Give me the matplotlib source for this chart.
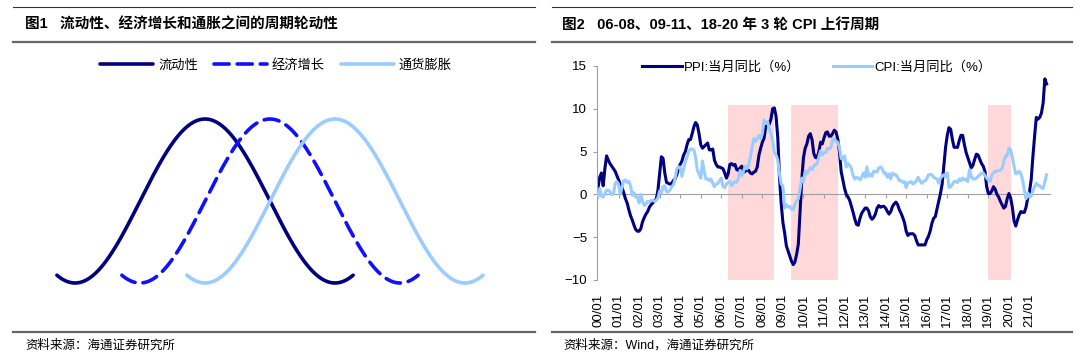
import numpy as np
import matplotlib
matplotlib.use("Agg")
import matplotlib.pyplot as plt
from matplotlib.lines import Line2D
from matplotlib.font_manager import FontProperties

# ---- data: left panel (schematic cycles) ----
cycle_names = ["流动性", "经济增长", "通货膨胀"]
cycle_lags = [0.0, 0.25, 0.5]          # lag of each peak, in cycles
cycle_colors = ["#000080", "#1010FF", "#99CCFF"]
cycle_styles = ["-", "--", "-"]

# ---- data: right panel (monthly yoy, 2000/01 - 2021/11) ----
ppi = [
    0.8, 2.0, 2.5, 1.0, 3.0, 4.5, 4.0, 3.6, 3.3, 3.0, 2.7, 2.2,        # 2000
    1.7, 1.2, 0.8, 0.2, -0.5, -1.0, -1.8, -2.5, -3.0, -3.6, -4.1, -4.3,  # 2001
    -4.3, -4.0, -3.2, -2.7, -2.3, -2.0, -1.5, -1.2, -1.0, -0.7, -0.6, 0.5,  # 2002
    2.5, 4.4, 4.2, 2.5, 1.4, 1.3, 1.2, 1.3, 1.6, 1.8, 2.3, 3.0,        # 2003
    3.5, 3.9, 4.6, 5.0, 5.8, 6.4, 6.4, 7.1, 7.9, 8.4, 8.1, 7.1,        # 2004
    5.8, 5.4, 5.6, 5.8, 6.0, 5.2, 5.2, 5.3, 4.0, 3.5, 3.2, 3.2,        # 2005
    3.1, 3.0, 2.5, 1.9, 2.4, 3.5, 3.6, 3.4, 3.5, 2.9, 2.8, 3.1,        # 2006
    3.3, 2.6, 2.7, 2.9, 2.8, 2.5, 2.4, 2.6, 2.7, 3.2, 4.6, 5.4,        # 2007
    6.1, 6.6, 8.0, 8.1, 8.2, 8.8, 10.0, 10.1, 9.1, 6.6, 2.0, -1.1,     # 2008
    -3.3, -4.5, -6.0, -6.6, -7.2, -7.8, -8.2, -7.9, -7.0, -5.8, -2.1, 1.7,  # 2009
    4.3, 5.4, 5.9, 6.8, 7.1, 6.4, 4.8, 4.3, 4.3, 5.0, 6.1, 5.9,        # 2010
    6.6, 7.2, 7.3, 6.8, 6.8, 7.1, 7.5, 7.3, 6.5, 5.0, 2.7, 1.7,        # 2011
    0.7, 0.0, -0.3, -0.7, -1.4, -2.1, -2.9, -3.5, -3.6, -2.8, -2.2, -1.9,  # 2012
    -1.6, -1.6, -1.9, -2.6, -2.9, -2.7, -2.3, -1.6, -1.3, -1.5, -1.4, -1.4,  # 2013
    -1.6, -2.0, -2.3, -2.0, -1.4, -1.1, -0.9, -1.2, -1.8, -2.2, -2.7, -3.3,  # 2014
    -4.3, -4.8, -4.6, -4.6, -4.6, -4.8, -5.4, -5.9, -5.9, -5.9, -5.9, -5.9,  # 2015
    -5.3, -4.9, -4.3, -3.4, -2.8, -2.6, -1.7, -0.8, 0.1, 1.2, 3.3, 5.5,  # 2016
    6.9, 7.8, 7.6, 6.4, 5.5, 5.5, 5.5, 6.3, 6.9, 6.9, 5.8, 4.9,        # 2017
    4.3, 3.7, 3.1, 3.4, 4.1, 4.7, 4.6, 4.1, 3.6, 3.3, 2.7, 0.9,        # 2018
    0.1, 0.1, 0.4, 0.9, 0.6, 0.0, -0.3, -0.8, -1.2, -1.6, -1.4, -0.5,  # 2019
    0.1, -0.4, -1.5, -3.1, -3.7, -3.0, -2.4, -2.0, -2.1, -2.1, -1.5, -0.4,  # 2020
    0.3, 1.7, 4.4, 6.8, 9.0, 8.8, 9.0, 9.5, 10.7, 13.5, 12.9,          # 2021
]
cpi = [
    -0.2, 0.7, -0.2, -0.3, 0.1, 0.5, 0.5, 0.3, 0.0, 0.0, 1.3, 1.5,     # 2000
    1.2, 0.0, 0.8, 1.6, 1.7, 1.4, 1.5, 1.0, -0.1, 0.2, -0.3, -0.3,     # 2001
    -1.0, 0.0, -0.8, -1.3, -1.1, -0.8, -0.9, -0.7, -0.7, -0.8, -0.7, -0.4,  # 2002
    0.4, 0.2, 0.9, 1.0, 0.3, 0.3, 0.5, 0.9, 1.1, 1.8, 3.0, 3.2,        # 2003
    3.2, 2.1, 3.0, 3.8, 4.4, 5.0, 5.3, 5.3, 5.2, 4.3, 2.8, 2.4,        # 2004
    1.9, 3.9, 2.7, 1.8, 1.8, 1.6, 1.8, 1.3, 0.9, 1.2, 1.3, 1.6,        # 2005
    1.9, 0.9, 0.8, 1.2, 1.4, 1.5, 1.0, 1.3, 1.5, 1.4, 1.9, 2.8,        # 2006
    2.2, 2.7, 3.3, 3.0, 3.4, 4.4, 5.6, 6.5, 6.2, 6.5, 6.9, 6.5,        # 2007
    7.1, 8.7, 8.3, 8.5, 7.7, 7.1, 6.3, 4.9, 4.6, 4.0, 2.4, 1.2,        # 2008
    1.0, -1.6, -1.2, -1.5, -1.4, -1.7, -1.8, -1.2, -0.8, -0.5, 0.6, 1.9,  # 2009
    1.5, 2.7, 2.4, 2.8, 3.1, 2.9, 3.3, 3.5, 3.6, 4.4, 5.1, 4.6,        # 2010
    4.9, 4.9, 5.4, 5.3, 5.5, 6.4, 6.5, 6.2, 6.1, 5.5, 4.2, 4.1,        # 2011
    4.5, 3.2, 3.6, 3.4, 3.0, 2.2, 1.8, 2.0, 1.9, 1.7, 2.0, 2.5,        # 2012
    2.0, 3.2, 2.1, 2.4, 2.1, 2.7, 2.7, 2.6, 3.1, 3.2, 3.0, 2.5,        # 2013
    2.5, 2.0, 2.4, 1.8, 2.5, 2.3, 2.3, 2.0, 1.6, 1.6, 1.4, 1.5,        # 2014
    0.8, 1.4, 1.4, 1.5, 1.2, 1.4, 1.6, 2.0, 1.6, 1.3, 1.5, 1.6,        # 2015
    1.8, 2.3, 2.3, 2.3, 2.0, 1.9, 1.8, 1.3, 1.9, 2.1, 2.3, 2.1,        # 2016
    2.5, 0.8, 0.9, 1.2, 1.5, 1.5, 1.4, 1.8, 1.6, 1.9, 1.7, 1.8,        # 2017
    1.5, 2.9, 2.1, 1.8, 1.8, 1.9, 2.1, 2.3, 2.5, 2.5, 2.2, 1.9,        # 2018
    1.7, 1.5, 2.3, 2.5, 2.7, 2.7, 2.8, 2.8, 3.0, 3.8, 4.5, 4.5,        # 2019
    5.4, 5.2, 4.3, 3.3, 2.4, 2.5, 2.7, 2.4, 1.7, 0.5, -0.5, 0.2,       # 2020
    -0.3, -0.2, 0.4, 0.9, 1.3, 1.1, 1.0, 0.8, 0.7, 1.5, 2.3,           # 2021
]
tick_years = list(range(2000, 2022))
tick_labels = ["%02d/01" % (y % 100) for y in tick_years]
# CPI up-cycles (start, end) in decimal years, shaded
shade_spans = [(2006 + 4 / 12, 2008 + 7 / 12),
               (2009 + 5 / 12, 2011 + 8 / 12),
               (2019.0, 2020 + 1 / 12)]
shade_top, shade_bottom = 10.5, -10

months = 2000 + np.arange(len(ppi)) / 12

W, H = 1080, 359
cjk = ["Noto Sans CJK SC", "DejaVu Sans"]
mix = ["Liberation Sans", "Noto Sans CJK SC", "DejaVu Sans"]
plt.rcParams["font.family"] = mix

fig = plt.figure(figsize=(W / 100, H / 100), dpi=100)


def fx(px):
    return px / W


def fy(py):
    return 1 - py / H


# ---- header / footer rules and texts ----
for x0, x1 in [(13, 535), (552, 1072)]:
    fig.add_artist(Line2D([fx(x0), fx(x1)], [fy(7), fy(7)], color="#333333", lw=0.8))
    fig.add_artist(Line2D([fx(x0), fx(x1)], [fy(42), fy(42)], color="#666666", lw=1.6))
    fig.add_artist(Line2D([fx(x0), fx(x1)], [fy(332), fy(332)], color="#666666", lw=1.6))

fig.text(fx(25), fy(24.5), "图1   流动性、经济增长和通胀之间的周期轮动性", fontsize=10.5,
         fontweight="bold", va="center", family=mix)
fig.text(fx(562), fy(24.5), "图2   06-08、09-11、18-20 年 3 轮 CPI 上行周期", fontsize=10.5,
         fontweight="bold", va="center", family=mix)
fig.text(fx(25), fy(345), "资料来源：海通证券研究所", fontsize=9, va="center", family=cjk)
fig.text(fx(563), fy(345), "资料来源：Wind，海通证券研究所", fontsize=9, va="center", family=mix)

# ---- left panel ----
ax1 = fig.add_axes([fx(40), fy(283), fx(460), (283 - 119) / H])
t = np.linspace(-0.57, 0.57, 400)
for name, lag, col, ls in zip(cycle_names, cycle_lags, cycle_colors, cycle_styles):
    line, = ax1.plot(t + lag, np.cos(2 * np.pi * t), color=col, lw=2.6, ls=ls,
                     label=name, clip_on=False, solid_capstyle="round")
    if ls == "--":
        line.set_dashes((4.2, 2.2))
        line.set_dash_capstyle("round")
ax1.set_xlim(-0.635, 1.135)
ax1.set_ylim(-1, 1)
ax1.axis("off")
fig.legend(*ax1.get_legend_handles_labels(), loc="center", ncol=3, frameon=False,
           bbox_to_anchor=(fx(276), fy(65)), handlelength=4.0, handletextpad=0.4,
           columnspacing=1.2, prop=FontProperties(family=cjk, size=9.5))

# ---- right panel ----
ax2 = fig.add_axes([fx(597), fy(280), fx(453), 214 / H])
for a, b in shade_spans:
    ax2.fill_between([a, b], shade_bottom, shade_top, color="#FFD9D9", lw=0, zorder=0)
ax2.plot(months, ppi, color="#000080", lw=2.2, label="PPI:当月同比（%）", zorder=2)
ax2.plot(months, cpi, color="#99CCFF", lw=2.2, label="CPI:当月同比（%）", zorder=3)
ax2.set_xlim(1999.95, 2022.0)
ax2.set_ylim(-10, 15)
for s in ["top", "right", "bottom"]:
    ax2.spines[s].set_visible(False)
ax2.spines["left"].set_color("#A0A0A0")
ax2.set_yticks([-10, -5, 0, 5, 10, 15])
ax2.tick_params(axis="y", direction="out", length=3, color="#A0A0A0", labelsize=9.5, pad=4)
ax2.set_xticks(tick_years)
ax2.set_xticklabels(tick_labels, rotation=90, fontsize=9.5)
ax2.tick_params(axis="x", length=0, pad=10)
sec = ax2.secondary_xaxis(0.4)
sec.set_xticks(tick_years)
sec.set_xticklabels([])
sec.tick_params(direction="out", length=3, color="#A0A0A0")
sec.spines["bottom"].set_color("#A0A0A0")
ax2.legend(loc="center", ncol=2, frameon=False, bbox_to_anchor=(fx(817), fy(67)),
           bbox_transform=fig.transFigure, handlelength=3.0, handletextpad=0.2,
           columnspacing=2.4, prop=FontProperties(family=mix, size=9.5))

fig.savefig("out.png", dpi=100)
